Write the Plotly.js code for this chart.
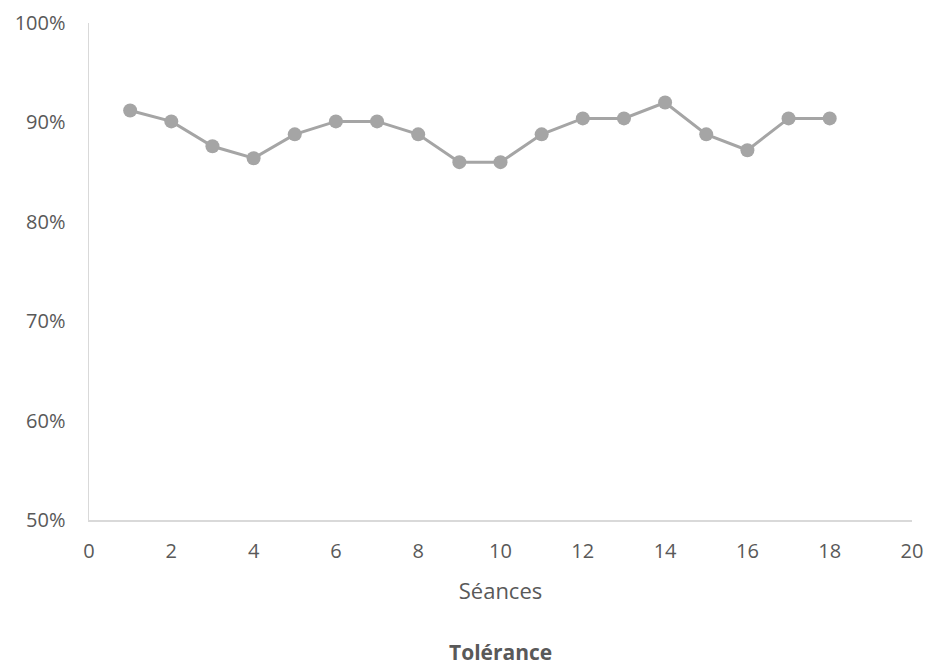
<!DOCTYPE html>
<html>
<head>
<meta charset="utf-8">
<script src="https://cdn.plot.ly/plotly-3.0.1.min.js"></script>
<style>html,body{margin:0;padding:0;background:#fff;}#chart{width:928px;height:671px;}</style>
</head>
<body>
<div id="chart"></div>
<script>
const seances = [1,2,3,4,5,6,7,8,9,10,11,12,13,14,15,16,17,18];
const tolerance = [0.912,0.901,0.876,0.864,0.888,0.901,0.901,0.888,0.860,0.860,0.888,0.904,0.904,0.920,0.888,0.872,0.904,0.904];
const xTitle = 'Séances';
const chartTitle = 'Tolérance';

const fam = 'Open Sans, Liberation Sans, sans-serif';

Plotly.newPlot('chart', [{
  x: seances,
  y: tolerance,
  type: 'scatter',
  mode: 'lines+markers',
  line: {color: '#a5a5a5', width: 3},
  marker: {color: '#a5a5a5', size: 14},
  hoverinfo: 'skip'
}], {
  width: 928, height: 671,
  margin: {l: 89, r: 16, t: 23, b: 151},
  paper_bgcolor: '#fff', plot_bgcolor: '#fff',
  font: {family: fam, color: '#595959', size: 20},
  showlegend: false,
  xaxis: {
    range: [0, 20], dtick: 2, tick0: 0,
    showgrid: false, zeroline: false,
    showline: true, linecolor: '#d9d9d9', linewidth: 1.5,
    ticks: '', ticklen: 0,
    ticklabelstandoff: 12,
    tickfont: {family: fam, color: '#595959', size: 20},
    title: {text: xTitle, font: {family: fam, color: '#595959', size: 22}, standoff: 21}
  },
  yaxis: {
    range: [0.5, 1.0], dtick: 0.1, tick0: 0.5,
    tickformat: '.0%',
    showgrid: false, zeroline: false,
    showline: true, linecolor: '#d9d9d9', linewidth: 1.5,
    ticks: '', ticklen: 0,
    ticklabelstandoff: 18,
    tickfont: {family: fam, color: '#595959', size: 20}
  },
  annotations: [{
    text: '<b>' + chartTitle + '</b>',
    xref: 'paper', yref: 'paper',
    x: 0.5, y: -(652-520)/497,
    xanchor: 'center', yanchor: 'middle',
    showarrow: false,
    font: {family: fam, color: '#595959', size: 21}
  }]
}, {displayModeBar: false, staticPlot: true});
</script>
</body>
</html>
